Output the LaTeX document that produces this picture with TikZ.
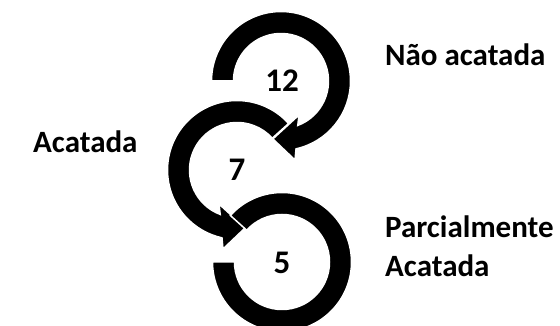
\documentclass[tikz,border=0pt]{standalone}
\usepackage{fontspec}
\setmainfont{Carlito}
\usetikzlibrary{positioning}

\begin{document}
\begin{tikzpicture}[x=1pt,y=1pt,
  band/.style={fill=black,draw=white,line width=1.5pt},
  num/.style={font=\fontsize{33}{33}\selectfont\bfseries,inner sep=0pt},
  lbl/.style={font=\fontsize{31}{39}\selectfont\bfseries,inner sep=0pt,align=left,anchor=base west}]
\useasboundingbox (0,0) rectangle (560,326);
\clip (0,0) rectangle (560,326);
%arrow 1
\begin{scope}[shift={(281,245)}]
\filldraw[band] (180:69.5) arc[start angle=180,end angle=-77.5,radius=69.5]
  -- (14,-79) -- (-98:58.5) -- (18,-34) -- (-69.3:47.5)
  arc[start angle=-69.3,end angle=180,radius=47.5] -- cycle;
\end{scope}
%arrow 2
\begin{scope}[shift={(237,156)},xscale=-1]
\filldraw[band] (138:69.5) arc[start angle=138,end angle=-77.5,radius=69.5]
  -- (14,-79) -- (-98:58.5) -- (18,-34) -- (-69.3:47.5)
  arc[start angle=-69.3,end angle=138,radius=47.5] -- cycle;
\end{scope}
%arrow 3
\begin{scope}[shift={(282,64)}]
\filldraw[band] (138:69.5) arc[start angle=138,end angle=-180,radius=69.5]
  -- (-180:47.5) arc[start angle=-180,end angle=138,radius=47.5] -- cycle;
\end{scope}
\node[num] (n12) at (282,245) {12};
\node[num] (n7) at (237,156) {7};
\node[num] (n5) at (282,63) {5};
\node[lbl] (nao) at (385,260) {Não acatada};
\node[lbl] (acat) at (33,173) {Acatada};
\node[lbl] (parc) at (385,49) {Parcialmente\\Acatada};
\end{tikzpicture}
\end{document}
